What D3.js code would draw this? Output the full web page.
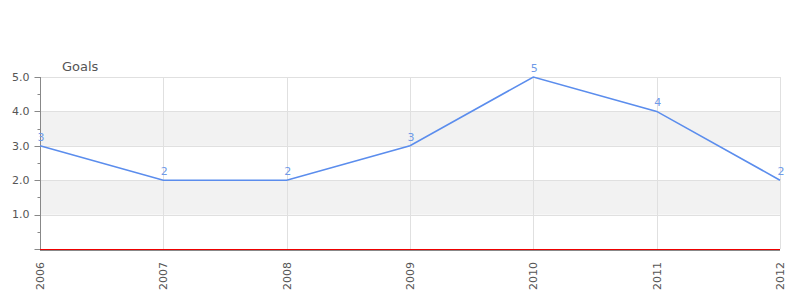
<!DOCTYPE html>
<html>
<head>
<meta charset="utf-8">
<script src="https://cdn.jsdelivr.net/npm/d3@7"></script>
<style>
  body { margin: 0; background: #fff; }
  svg text { font-family: "DejaVu Sans", sans-serif; }
</style>
</head>
<body>
<div id="chart"></div>
<script>
// chart data
var years = ["2006", "2007", "2008", "2009", "2010", "2011", "2012"];
var goals = [3, 2, 2, 3, 5, 4, 2];
var yTicks = [1, 2, 3, 4, 5];

var width = 800, height = 300;
var margin = {top: 77, right: 20, bottom: 51, left: 40};

var svg = d3.select("#chart").append("svg")
    .attr("width", width)
    .attr("height", height);

var x = d3.scalePoint()
    .domain(years)
    .range([margin.left, width - margin.right]);

var y = d3.scaleLinear()
    .domain([0, 5])
    .range([height - margin.bottom, margin.top]);

//alternating bands between the ticks
var bands = [[1, 2], [3, 4]];
svg.selectAll("rect.band").data(bands).enter().append("rect")
    .attr("class", "band")
    .attr("x", margin.left)
    .attr("width", width - margin.right - margin.left)
    .attr("y", function(d){ return y(d[1]); })
    .attr("height", function(d){ return y(d[0]) - y(d[1]); })
    .attr("fill", "#f2f2f2");

//horizontal grid
svg.selectAll("line.hgrid").data(yTicks).enter().append("line")
    .attr("x1", margin.left).attr("x2", width - margin.right)
    .attr("y1", function(d){ return Math.round(y(d)) + 0.5; })
    .attr("y2", function(d){ return Math.round(y(d)) + 0.5; })
    .attr("stroke", "#e0e0e0");

//vertical grid
svg.selectAll("line.vgrid").data(years).enter().append("line")
    .attr("x1", function(d){ return Math.round(x(d)) + 0.5; })
    .attr("x2", function(d){ return Math.round(x(d)) + 0.5; })
    .attr("y1", y(5)).attr("y2", y(0))
    .attr("stroke", "#e0e0e0");

//y axis with minor ticks
var yAxis = svg.append("g")
    .attr("transform", "translate(" + (margin.left + 0.5) + ",0)");
var minorTicks = d3.range(0.5, 5, 1);
yAxis.selectAll("line.minor").data(minorTicks).enter().append("line")
    .attr("x1", -3).attr("x2", 0)
    .attr("y1", function(d){ return Math.round(y(d)) + 0.5; })
    .attr("y2", function(d){ return Math.round(y(d)) + 0.5; })
    .attr("stroke", "#888");
yAxis.selectAll("line.major").data([0].concat(yTicks)).enter().append("line")
    .attr("x1", -6).attr("x2", 0)
    .attr("y1", function(d){ return Math.round(y(d)) + 0.5; })
    .attr("y2", function(d){ return Math.round(y(d)) + 0.5; })
    .attr("stroke", "#888");
yAxis.append("line")
    .attr("x1", 0).attr("x2", 0)
    .attr("y1", y(5)).attr("y2", y(0))
    .attr("stroke", "#888");
yAxis.selectAll("text").data(yTicks).enter().append("text")
    .attr("x", -11)
    .attr("y", function(d){ return y(d); })
    .attr("dy", "0.35em")
    .attr("text-anchor", "end")
    .attr("font-size", 11)
    .attr("fill", "#555")
    .text(function(d){ return d3.format(".1f")(d); });

//axis title
svg.append("text")
    .attr("x", 62).attr("y", 71)
    .attr("font-size", 13)
    .attr("fill", "#555")
    .text("Goals");

//x baseline: red line with a gray line just under it
svg.append("line")
    .attr("x1", margin.left).attr("x2", width - margin.right)
    .attr("y1", y(0) + 1.5).attr("y2", y(0) + 1.5)
    .attr("stroke", "#888");
svg.append("line")
    .attr("x1", margin.left).attr("x2", width - margin.right)
    .attr("y1", y(0) + 0.5).attr("y2", y(0) + 0.5)
    .attr("stroke", "#ee0000");

//x labels, rotated
svg.selectAll("text.xlab").data(years).enter().append("text")
    .attr("class", "xlab")
    .attr("transform", function(d){ return "translate(" + (x(d) + 4) + "," + (y(0) + 13) + ") rotate(-90)"; })
    .attr("text-anchor", "end")
    .attr("font-size", 11)
    .attr("fill", "#555")
    .text(function(d){ return d; });

//the line
var line = d3.line()
    .x(function(d, i){ return x(years[i]); })
    .y(function(d){ return y(d); });

svg.append("path")
    .datum(goals)
    .attr("d", line)
    .attr("fill", "none")
    .attr("stroke", "#5b8ded")
    .attr("stroke-width", 1.6);

//value labels
svg.selectAll("text.val").data(goals).enter().append("text")
    .attr("class", "val")
    .attr("x", function(d, i){ return x(years[i]) + 1; })
    .attr("y", function(d){ return y(d) - 5; })
    .attr("text-anchor", "middle")
    .attr("font-size", 11)
    .attr("fill", "#6f9ae8")
    .text(function(d){ return d; });
</script>
</body>
</html>
